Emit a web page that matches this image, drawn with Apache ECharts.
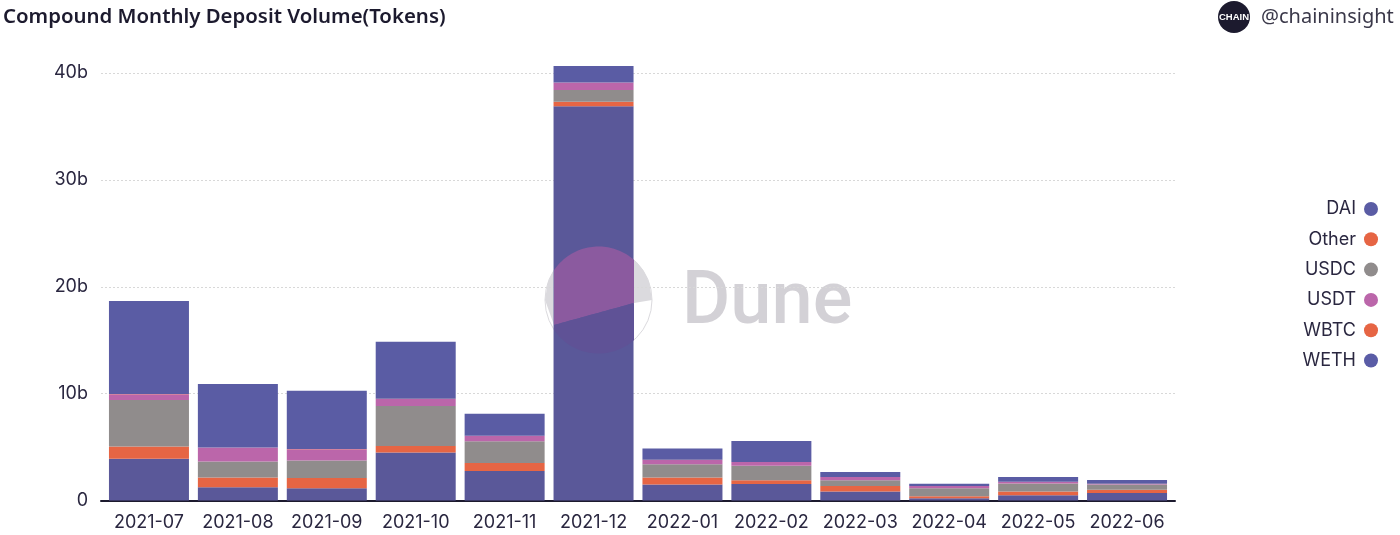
<!DOCTYPE html>
<html><head><meta charset="utf-8">
<script src="https://cdn.jsdelivr.net/npm/echarts@6/dist/echarts.min.js"></script>
<style>html,body{margin:0;padding:0;background:#fff}#c{width:1400px;height:535px}</style>
</head><body><div id="c"></div>
<script>
const categories=['2021-07','2021-08','2021-09','2021-10','2021-11','2021-12','2022-01','2022-02','2022-03','2022-04','2022-05','2022-06'];
const legendOrder=['DAI','Other','USDC','USDT','WBTC','WETH'];
const WETH=[3.9,1.25,1.15,4.5,2.75,36.9,1.5,1.55,0.85,0.2,0.5,0.7];
const WBTC=[1.15,0.9,0.95,0.6,0.75,0.4,0.65,0.35,0.5,0.2,0.35,0.3];
const USDC=[4.35,1.5,1.65,3.75,2.05,1.1,1.25,1.35,0.55,0.75,0.75,0.5];
const USDT=[0.55,1.3,1.05,0.65,0.5,0.7,0.4,0.35,0.3,0.2,0.15,0.05];
const Other=[0.01,0.01,0.01,0.01,0.01,0.01,0.01,0.01,0.01,0.01,0.01,0.01];
const DAI=[8.7,5.95,5.45,5.35,2.05,1.55,1.05,1.95,0.45,0.2,0.45,0.35];

const FONT='Inter';
const INK='#2a2740';
const colors={DAI:'#5a5ca4',Other:'#e66544',USDC:'#908c8c',USDT:'#bb66aa',WBTC:'#e66544',WETH:'#5a5899'};
const stackOrder=[['WETH',WETH],['WBTC',WBTC],['USDC',USDC],['USDT',USDT],['Other',Other],['DAI',DAI]];

// Dune watermark geometry (decoration, not data)
const cx=598.5,cy=300,r=53.5;
function seamY(x){return 325-(x-554)*22/80;}
function arcPts(fromX,toX,sign){const p=[];const n=40;for(let i=0;i<=n;i++){const x=fromX+(toX-fromX)*i/n;const d=Math.sqrt(Math.max(0,r*r-(x-cx)*(x-cx)));p.push([x,cy+sign*d]);}return p;}
function seamPts(fromX,toX){const p=[];const n=20;for(let i=0;i<=n;i++){const x=fromX+(toX-fromX)*i/n;p.push([x,seamY(x)]);}return p;}

const chart=echarts.init(document.getElementById('c'),null,{renderer:'canvas'});
chart.setOption({
  animation:false,
  backgroundColor:'#fff',
  grid:[
    {left:104.5,right:228.5,top:73,bottom:34.5},
    {left:101,right:225,top:73,bottom:34.5}
  ],
  xAxis:[
    {type:'category',gridIndex:0,data:categories,axisTick:{show:false},axisLine:{show:false},
     axisLabel:{color:INK,fontSize:18,fontFamily:FONT,margin:13,interval:0}},
    {type:'value',gridIndex:1,min:0,max:1,show:true,axisTick:{show:false},axisLabel:{show:false},splitLine:{show:false},
     axisLine:{show:true,onZero:false,lineStyle:{color:'#1c1a2e',width:2}}}
  ],
  yAxis:[
    {type:'value',gridIndex:0,min:0,max:40,interval:10,show:false,splitLine:{show:false}},
    {type:'value',gridIndex:1,min:0,max:40,interval:10,axisLine:{show:false},axisTick:{show:false},
     splitLine:{show:true,showMinLine:false,lineStyle:{color:'#d8d8d8',type:[2,2],width:1}},
     axisLabel:{color:INK,fontSize:18,fontFamily:FONT,margin:13,formatter:v=>v===0?'0':v+'b'}}
  ],
  legend:{orient:'vertical',right:17,top:195,align:'right',icon:'circle',itemWidth:14,itemHeight:14,itemGap:12.3,
    data:legendOrder.map(n=>({name:n,itemStyle:{color:n==='WETH'?'#5a5ca6':colors[n]}})),
    textStyle:{color:INK,fontSize:18,fontFamily:FONT,padding:[0,3,0,0]}},
  series:stackOrder.map(([name,data])=>({
    name,type:'bar',stack:'t',xAxisIndex:0,yAxisIndex:0,data,barWidth:80,clip:false,
    itemStyle:{color:colors[name]},z:2
  })),
  graphic:[
    {type:'text',style:{text:'Compound Monthly Deposit Volume(Tokens)',x:3,y:17,verticalAlign:'middle',fontSize:20.4,fontWeight:600,fontFamily:'"Noto Sans"',fill:'#1c1a2e'}},
    {type:'circle',shape:{cx:1234,cy:17,r:16},style:{fill:'#1c1a2e'}},
    {type:'text',style:{text:'CHAIN',x:1234,y:17,align:'center',verticalAlign:'middle',fontSize:9.5,fontWeight:'bold',fontFamily:'"Liberation Sans"',fill:'#fff'}},
    {type:'text',style:{text:'@chaininsight',x:1261,y:17,verticalAlign:'middle',fontSize:20,fontFamily:'"Noto Sans"',fill:'#3a3849'}},
    {type:'polygon',z:0,shape:{points:arcPts(cx-r,cx+r,-1).concat(seamPts(634,554))},style:{fill:'#dbdade'}},
    {type:'circle',z:0,shape:{cx,cy,r},style:{fill:'none',stroke:'#dbdade',lineWidth:1}},
    {type:'text',z:0,style:{text:'Dune',x:682,y:304,verticalAlign:'middle',fontSize:74,fontWeight:500,fontFamily:'Roboto',fill:'#d3d1d6'}},
    {type:'polygon',z:100,shape:{points:arcPts(554,634,-1).concat(seamPts(634,554))},style:{fill:'#8b5a9f'}},
    {type:'polygon',z:100,shape:{points:seamPts(554,634).concat(arcPts(634,554,1))},style:{fill:'#5f5296'}}
  ]
});
</script></body></html>
